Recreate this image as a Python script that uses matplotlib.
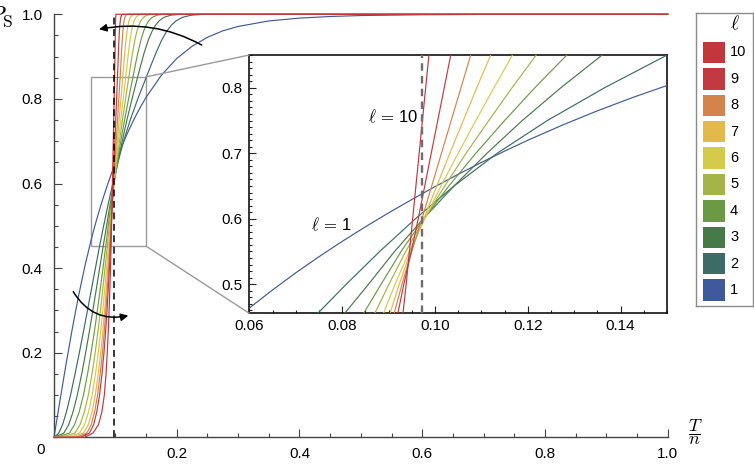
import matplotlib
matplotlib.use('Agg')
import matplotlib.pyplot as plt
from matplotlib.patches import Rectangle, ConnectionPatch
from matplotlib.ticker import MultipleLocator, FixedLocator

plt.rcParams['font.family'] = ['Liberation Sans', 'DejaVu Sans']
plt.rcParams['mathtext.fontset'] = 'cm'

# ---------------- data ----------------
ells = [1, 2, 3, 4, 5, 6, 7, 8, 9, 10]
colors = ['#3f5a9c', '#3d6b66', '#467a47', '#6b9a44', '#a4b446',
          '#d4cb4b', '#e4b94b', '#d4834b', '#c23a3f', '#c2363c']

# curve l = 1, sampled along T/n
tn_l1 = [0, 0.01, 0.02, 0.03, 0.04, 0.05, 0.06, 0.065, 0.07, 0.075, 0.08, 0.085, 0.09, 0.095,
         0.1, 0.105, 0.11, 0.115, 0.12, 0.1275, 0.135, 0.1425, 0.15, 0.175, 0.2, 0.225, 0.25,
         0.275, 0.3, 0.35, 0.4, 0.45, 0.5, 0.6, 0.7, 1.0]
ps_l1 = [0, 0.0893, 0.1760, 0.2582, 0.3342, 0.4027, 0.4635, 0.4912, 0.5173, 0.5419, 0.5653,
         0.5876, 0.6089, 0.6293, 0.6490, 0.6679, 0.6860, 0.7033, 0.7199, 0.7432, 0.7649, 0.7850,
         0.8036, 0.8561, 0.8955, 0.9244, 0.9456, 0.9609, 0.9713, 0.9843, 0.9910, 0.9948, 0.9971,
         0.9990, 0.9998, 1.0]

# curves l = 2..10: T/n at which each curve reaches these success-probability levels
ps_levels = [0, 0.01, 0.03, 0.06, 0.1, 0.15, 0.2, 0.25, 0.3, 0.35, 0.4, 0.455,
             0.5, 0.55, 0.6, 0.65, 0.7, 0.75, 0.8, 0.85,
             0.88, 0.91, 0.94, 0.96, 0.975, 0.985, 0.993, 0.998, 1.0]

tn_l2 = [0, 0.0078, 0.0140, 0.0203, 0.0270, 0.0343, 0.0413, 0.0480, 0.0545, 0.0610, 0.0675, 0.0747,
         0.0809, 0.0881, 0.0958, 0.1041, 0.1134, 0.1242, 0.1365, 0.150,
         0.1582, 0.1665, 0.1758, 0.1837, 0.1917, 0.1994, 0.2096, 0.224, 0.2425]
tn_l3 = [0, 0.0160, 0.0240, 0.0310, 0.0380, 0.0452, 0.0516, 0.0576, 0.0633, 0.0689, 0.0744, 0.0805,
         0.0857, 0.0913, 0.0975, 0.1041, 0.1112, 0.1188, 0.1271, 0.1360,
         0.1414, 0.1471, 0.1539, 0.1598, 0.1658, 0.1716, 0.1794, 0.1906, 0.2048]
tn_l4 = [0.004, 0.0250, 0.0335, 0.0410, 0.0480, 0.0547, 0.0605, 0.0658, 0.0707, 0.0753, 0.0798, 0.0846,
         0.0884, 0.0927, 0.0976, 0.1030, 0.1088, 0.1150, 0.1215, 0.1284,
         0.1325, 0.1368, 0.1418, 0.1460, 0.1504, 0.1545, 0.1601, 0.1681, 0.1782]
tn_l5 = [0.012, 0.0340, 0.0425, 0.0495, 0.0560, 0.0620, 0.0671, 0.0716, 0.0757, 0.0795, 0.0831, 0.0870,
         0.0901, 0.0937, 0.0977, 0.1021, 0.1067, 0.1116, 0.1166, 0.1218,
         0.1249, 0.1281, 0.1319, 0.1351, 0.1384, 0.1416, 0.1458, 0.1518, 0.1596]
tn_l6 = [0.020, 0.0415, 0.0498, 0.0563, 0.0622, 0.0676, 0.0721, 0.0760, 0.0795, 0.0827, 0.0857, 0.0889,
         0.0914, 0.0945, 0.0978, 0.1013, 0.1050, 0.1088, 0.1127, 0.1167,
         0.1190, 0.1213, 0.1240, 0.1262, 0.1284, 0.1306, 0.1335, 0.1376, 0.1428]
tn_l7 = [0.028, 0.0480, 0.0560, 0.0620, 0.0673, 0.0721, 0.0761, 0.0795, 0.0825, 0.0852, 0.0877, 0.0903,
         0.0923, 0.0948, 0.0976, 0.1004, 0.1032, 0.1061, 0.1090, 0.1120,
         0.1137, 0.1154, 0.1174, 0.1190, 0.1207, 0.1223, 0.1244, 0.1274, 0.1312]
tn_l8 = [0.036, 0.0535, 0.0607, 0.0662, 0.0710, 0.0753, 0.0789, 0.0819, 0.0845, 0.0868, 0.0890, 0.0912,
         0.0929, 0.0950, 0.0972, 0.0993, 0.1014, 0.1035, 0.1056, 0.1077,
         0.1089, 0.1099, 0.1112, 0.1122, 0.1132, 0.1142, 0.1154, 0.1173, 0.1196]
tn_l9 = [0.043, 0.0578, 0.0646, 0.0697, 0.0742, 0.0782, 0.0814, 0.0841, 0.0864, 0.0884, 0.0903, 0.0920,
         0.0933, 0.0949, 0.0964, 0.0978, 0.0992, 0.1006, 0.1020, 0.1034,
         0.1042, 0.1050, 0.1058, 0.1065, 0.1073, 0.1080, 0.1089, 0.1102, 0.1118]
tn_l10 = [0.050, 0.0635, 0.0725, 0.0780, 0.0820, 0.0848, 0.0868, 0.0884, 0.0898, 0.0910, 0.0921, 0.0931,
          0.0938, 0.0945, 0.0952, 0.0959, 0.0966, 0.0973, 0.0980, 0.0987,
          0.0991, 0.0995, 0.0998, 0.1000, 0.1002, 0.1004, 0.1006, 0.1008, 0.1011]
tn_level_curves = [tn_l2, tn_l3, tn_l4, tn_l5, tn_l6, tn_l7, tn_l8, tn_l9, tn_l10]

critical_tn = 0.0975
zoom_x = (0.06, 0.15)
zoom_y = (0.452, 0.852)

main_xticks = [0.2, 0.4, 0.6, 0.8, 1.0]
main_yticks = [0.2, 0.4, 0.6, 0.8, 1.0]
inset_xticks = [0.06, 0.08, 0.10, 0.12, 0.14]
inset_xticklabels = ['0.06', '0.08', '0.10', '0.12', '0.14']
inset_yticks = [0.5, 0.6, 0.7, 0.8]

# assemble (T/n, P_S) point lists per curve
curves = [(tn_l1, ps_l1)]
for tn in tn_level_curves:
    curves.append(([0.0] + list(tn) + [1.0], [0.0] + list(ps_levels) + [1.0]))

# ---------------- figure ----------------
W, H = 754, 468
fig = plt.figure(figsize=(W / 100, H / 100), dpi=100)


def fx(px):
    return px / W


def fy(py):
    return 1 - py / H


ax = fig.add_axes([fx(54), fy(437.3), 613.7 / W, 423 / H])
ax.set_xlim(0, 1)
ax.set_ylim(0, 1)

for col, (xs, ys) in zip(colors, curves):
    ax.plot(xs, ys, color=col, lw=0.85, clip_on=False, zorder=3)

ax.plot([critical_tn, critical_tn], [0, 1], color='k', lw=1.1,
        ls=(0, (4.5, 3)), zorder=4, clip_on=False)

for s in ['top', 'right']:
    ax.spines[s].set_visible(False)
for s in ['left', 'bottom']:
    ax.spines[s].set_color('#444444')
    ax.spines[s].set_linewidth(1.0)

ax.xaxis.set_major_locator(FixedLocator(main_xticks))
ax.yaxis.set_major_locator(FixedLocator(main_yticks))
ax.xaxis.set_minor_locator(MultipleLocator(0.05))
ax.yaxis.set_minor_locator(MultipleLocator(0.05))
ax.set_xticklabels(['%.1f' % v for v in main_xticks])
ax.set_yticklabels(['%.1f' % v for v in main_yticks])
ax.tick_params(which='both', direction='in', color='#444444', width=0.8)
ax.tick_params(which='major', length=5.5, labelsize=11, pad=7)
ax.tick_params(which='minor', length=3)
ax.tick_params(axis='y', pad=8)
ax.text(-0.022, -0.03, '0', transform=ax.transAxes, ha='center', va='center',
        fontsize=11)

# zoom rectangle
ax.add_patch(Rectangle((zoom_x[0], zoom_y[0]), zoom_x[1] - zoom_x[0],
                       zoom_y[1] - zoom_y[0], fill=False, ec='#9a9a9a', lw=1.0, zorder=2))

# arrows
ax.annotate('', xy=(0.0735, 0.9645), xytext=(0.2407, 0.9274),
            arrowprops=dict(arrowstyle='-|>', color='k', lw=1.1, mutation_scale=11,
                            shrinkA=0, shrinkB=0,
                            connectionstyle='arc3,rad=0.18'), zorder=6)
ax.annotate('', xy=(0.1211, 0.2875), xytext=(0.0314, 0.3442),
            arrowprops=dict(arrowstyle='-|>', color='k', lw=1.1, mutation_scale=11,
                            shrinkA=0, shrinkB=0,
                            connectionstyle='arc3,rad=0.35'), zorder=6)

# axis labels
fig.text(fx(695), fy(432), r'$\dfrac{T}{n}$', ha='center', va='center', fontsize=13)
fig.text(fx(13), fy(17), r'$P_{\mathrm{S}}$', ha='right', va='center', fontsize=18)

# ---------------- inset ----------------
axins = fig.add_axes([fx(249.3), fy(313.3), 417.7 / W, 258.3 / H])
axins.set_xlim(0.06, 0.15)
axins.set_ylim(0.4555, 0.8502)
for col, (xs, ys) in zip(colors, curves):
    axins.plot(xs, ys, color=col, lw=0.85, zorder=3)
axins.axvline(critical_tn - 0.0003, color='#6e6e6e', lw=1.7, ls=(0, (3.2, 2.2)), zorder=4)
for s in axins.spines.values():
    s.set_color('#111111')
    s.set_linewidth(1.2)
axins.xaxis.set_major_locator(FixedLocator(inset_xticks))
axins.set_xticklabels(inset_xticklabels)
axins.yaxis.set_major_locator(FixedLocator(inset_yticks))
axins.set_yticklabels(['%.1f' % v for v in inset_yticks])
axins.xaxis.set_minor_locator(MultipleLocator(0.005))
axins.yaxis.set_minor_locator(MultipleLocator(0.01))
axins.tick_params(which='both', direction='in', top=False, right=False, color='#222222', width=0.8)
axins.tick_params(which='major', length=5, labelsize=11, pad=4)
axins.tick_params(which='minor', length=2.5)
axins.tick_params(axis='y', pad=5)

axins.text(0.0910, 0.7566, r'$\ell\,=\,$' + '10', ha='center', va='center', fontsize=12)
axins.text(0.0778, 0.591, r'$\ell\,=\,$' + '1', ha='center', va='center', fontsize=12)

# connectors
for (xa, ya), (xb, yb) in [((zoom_x[1], zoom_y[1]), (0, 1)), ((zoom_x[1], zoom_y[0]), (0, 0))]:
    cp = ConnectionPatch(xyA=(xa, ya), coordsA=ax.transData, xyB=(xb, yb),
                         coordsB=axins.transAxes, color='#9a9a9a', lw=1.0)
    fig.add_artist(cp)

# ---------------- legend ----------------
lax = fig.add_axes([fx(696), fy(306), 57 / W, 292.7 / H])
lax.set_xlim(0, 57)
lax.set_ylim(292.7, 0)
lax.set_xticks([])
lax.set_yticks([])
for s in lax.spines.values():
    s.set_color('#8a8a8a')
    s.set_linewidth(1.0)
lax.text(39, 11, r'$\ell$', ha='center', va='center', fontsize=14)
for k, (ell, col) in enumerate(zip(ells[::-1], colors[::-1])):
    top = 28.4 + 26.4 * k
    lax.add_patch(Rectangle((6.7, top), 22.3, 21.5, fc=col, ec='none'))
    lax.text(34, top + 10.8, str(ell), ha='left', va='center', fontsize=10.5)

fig.savefig('out.png', dpi=100)
